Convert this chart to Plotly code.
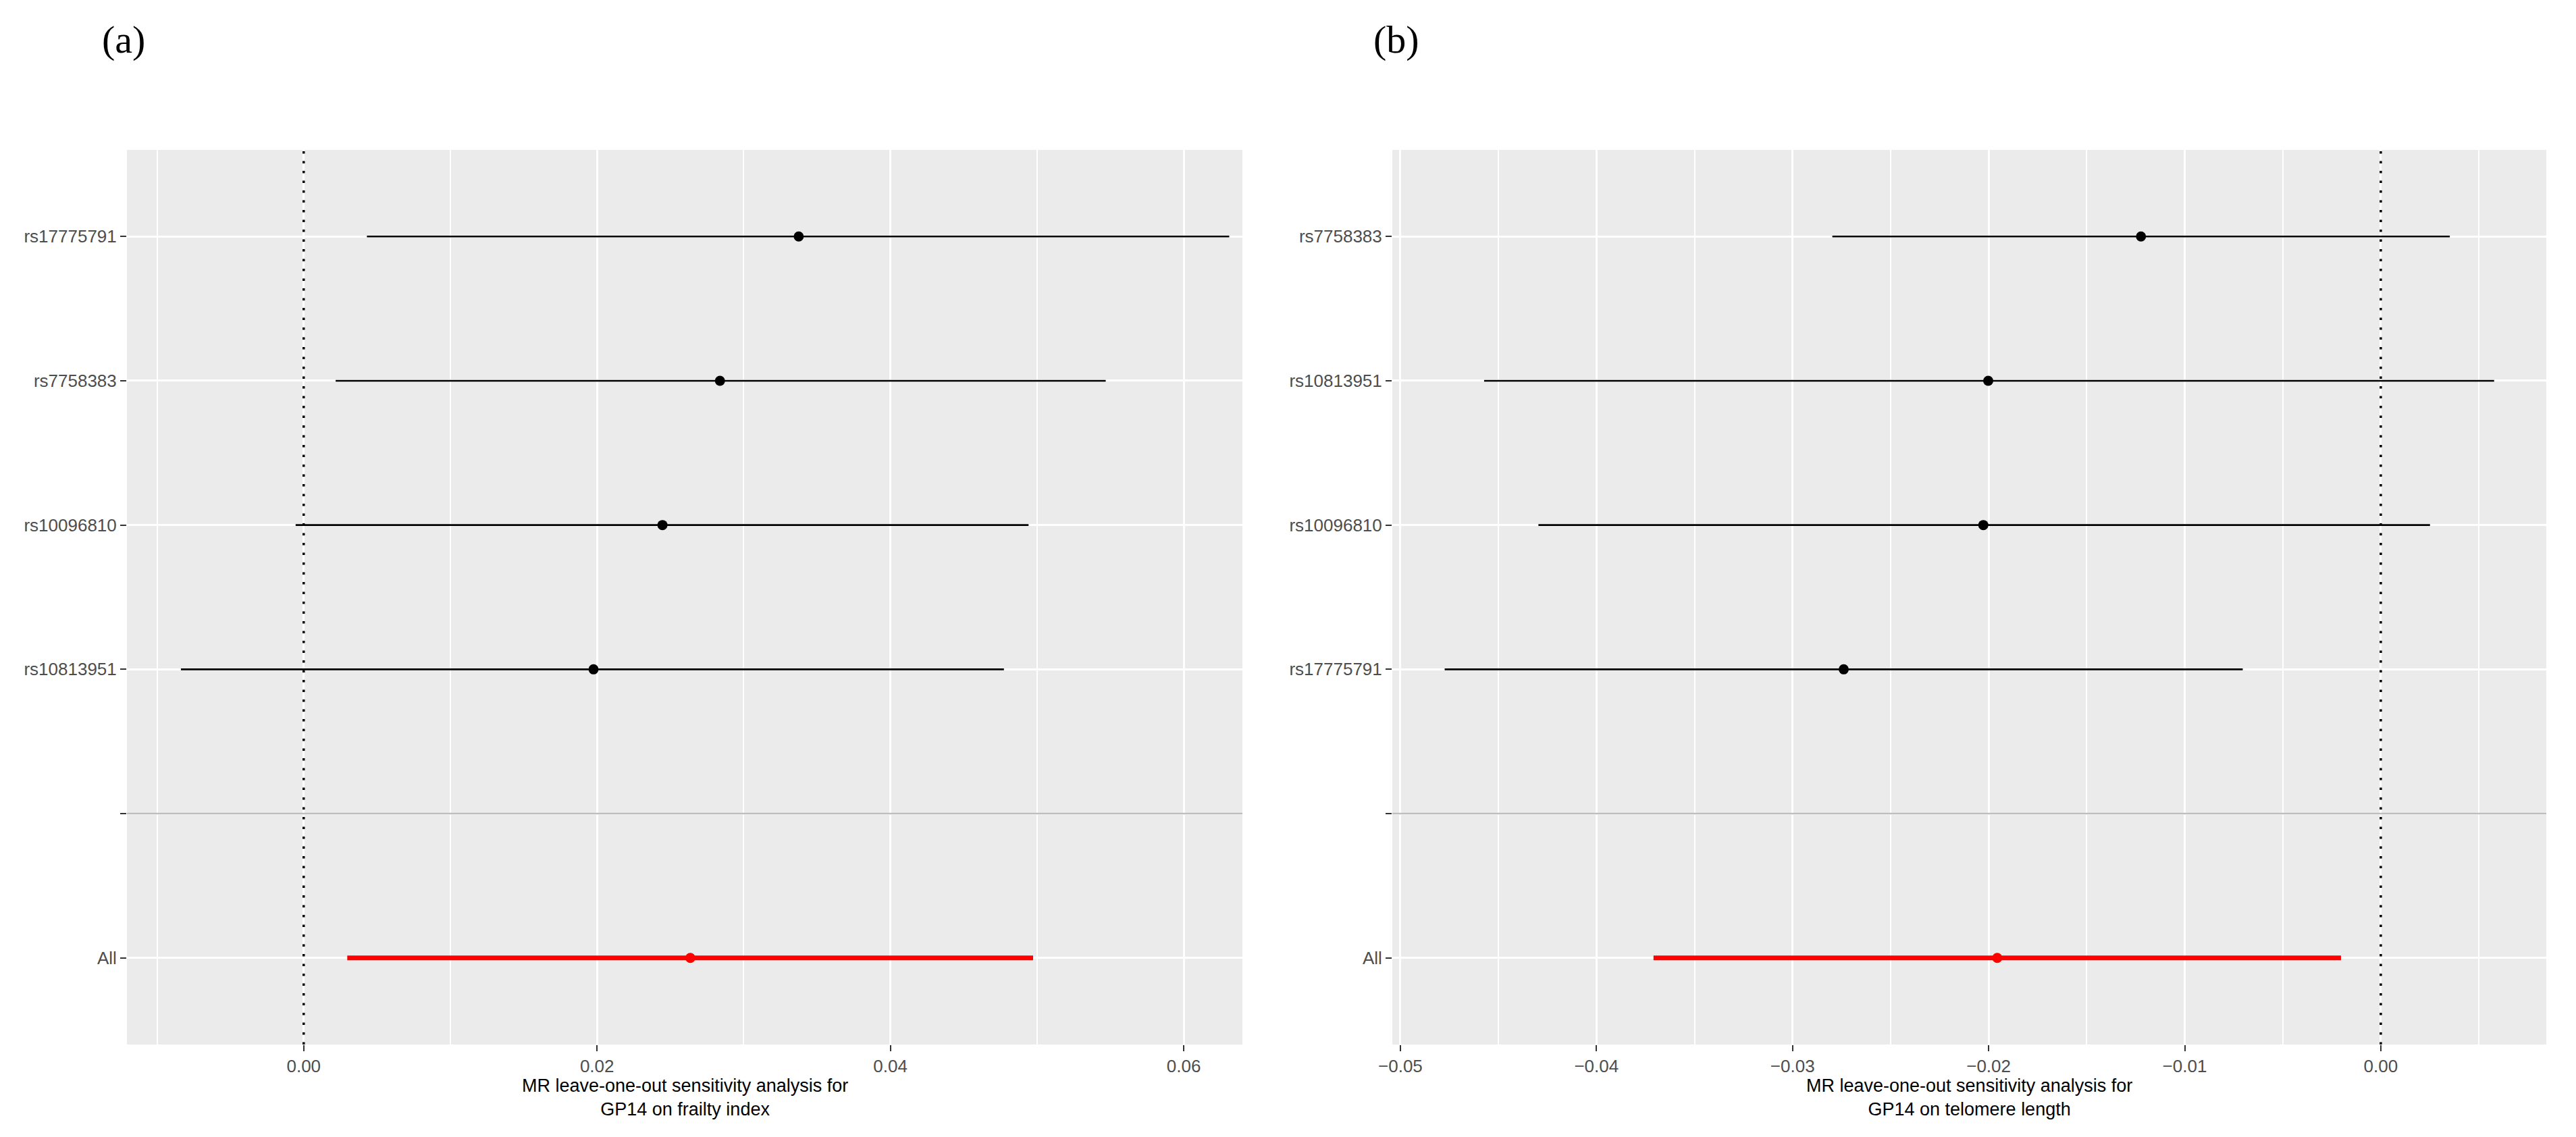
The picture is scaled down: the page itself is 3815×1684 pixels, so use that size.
import plotly.graph_objects as go

# ---------------- data ----------------
# Panel (a): GP14 on frailty index (rows listed top to bottom)
a_snps = ["rs17775791", "rs7758383", "rs10096810", "rs10813951"]
a_b = [0.03375, 0.02838, 0.02446, 0.01976]
a_lo = [0.00431, 0.00218, -0.00055, -0.00837]
a_hi = [0.06310, 0.05468, 0.04942, 0.04774]
a_all_b, a_all_lo, a_all_hi = 0.02636, 0.00297, 0.04973
a_ticks = [0.00, 0.02, 0.04, 0.06]
a_ticklabels = ["0.00", "0.02", "0.04", "0.06"]
a_minor = [-0.01, 0.01, 0.03, 0.05]
a_range = [-0.01205, 0.0640]
a_title = "MR leave-one-out sensitivity analysis for<br>GP14 on frailty index"

# Panel (b): GP14 on telomere length (rows listed top to bottom)
b_snps = ["rs7758383", "rs10813951", "rs10096810", "rs17775791"]
b_b = [-0.01223, -0.02002, -0.02027, -0.02739]
b_lo = [-0.02797, -0.04573, -0.04296, -0.04774]
b_hi = [0.00352, 0.00578, 0.00251, -0.00704]
b_all_b, b_all_lo, b_all_hi = -0.01956, -0.03709, -0.00203
b_ticks = [-0.05, -0.04, -0.03, -0.02, -0.01, 0.00]
b_ticklabels = ["\u22120.05", "\u22120.04", "\u22120.03", "\u22120.02", "\u22120.01", "0.00"]
b_minor = [-0.045, -0.035, -0.025, -0.015, -0.005, 0.005]
b_range = [-0.05041, 0.00844]
b_title = "MR leave-one-out sensitivity analysis for<br>GP14 on telomere length"

panel_labels = ["(a)", "(b)"]

# ---------------- figure ----------------
W, H = 3815, 1684          # browser window
OFF = 8                    # default page body margin
FW, FH = W - 2 * OFF, H - 2 * OFF
FONT = "Liberation Sans, Arial, sans-serif"


def px(xs):   # screen x -> paper
    return (xs - OFF) / FW


def py(ys):   # screen y -> paper
    return 1 - (ys - OFF) / FH


fig = go.Figure()

panels = [
    dict(snps=a_snps, b=a_b, lo=a_lo, hi=a_hi, all=(a_all_b, a_all_lo, a_all_hi),
         ticks=a_ticks, ticklabels=a_ticklabels, minor=a_minor, rng=a_range,
         title=a_title, xd=[px(188), px(1840)], xa="x", ya="y"),
    dict(snps=b_snps, b=b_b, lo=b_lo, hi=b_hi, all=(b_all_b, b_all_lo, b_all_hi),
         ticks=b_ticks, ticklabels=b_ticklabels, minor=b_minor, rng=b_range,
         title=b_title, xd=[px(2062), px(3771)], xa="x2", ya="y2"),
]

y_dom = [py(1547), py(222)]

for k, p in enumerate(panels):
    # discrete levels bottom -> top: All, blank separator, SNPs
    levels = ["All", ""] + p["snps"][::-1]
    pos = {lab: i + 1 for i, lab in enumerate(levels)}
    snp_y = [pos[s] for s in p["snps"]]

    # dotted reference line at zero (as a trace so it sits above the grid)
    fig.add_trace(go.Scatter(x=[0, 0], y=[0.4, len(levels) + 0.6], mode="lines",
                             line=dict(color="black", width=3.5, dash="3.5px,11px"),
                             xaxis=p["xa"], yaxis=p["ya"], showlegend=False, hoverinfo="skip"))

    ex, ey = [], []
    for lo, hi, yy in zip(p["lo"], p["hi"], snp_y):
        ex += [lo, hi, None]
        ey += [yy, yy, None]
    fig.add_trace(go.Scatter(x=ex, y=ey, mode="lines", line=dict(color="black", width=2.6),
                             xaxis=p["xa"], yaxis=p["ya"], showlegend=False, hoverinfo="skip"))
    fig.add_trace(go.Scatter(x=p["b"], y=snp_y, mode="markers",
                             marker=dict(color="black", size=15, line=dict(width=0)),
                             xaxis=p["xa"], yaxis=p["ya"], showlegend=False))
    ab, alo, ahi = p["all"]
    fig.add_trace(go.Scatter(x=[alo, ahi], y=[pos["All"], pos["All"]], mode="lines",
                             line=dict(color="red", width=7),
                             xaxis=p["xa"], yaxis=p["ya"], showlegend=False, hoverinfo="skip"))
    fig.add_trace(go.Scatter(x=[ab], y=[pos["All"]], mode="markers",
                             marker=dict(color="red", size=15, line=dict(width=0)),
                             xaxis=p["xa"], yaxis=p["ya"], showlegend=False))

    suffix = "" if k == 0 else "2"
    fig.update_layout(**{
        "xaxis" + suffix: dict(
            domain=p["xd"], anchor=p["ya"], range=p["rng"], automargin=False,
            tickmode="array", tickvals=p["ticks"], ticktext=p["ticklabels"],
            ticks="outside", ticklen=9, tickwidth=2, tickcolor="#333333",
            tickfont=dict(family=FONT, size=26, color="#4D4D4D"),
            showgrid=True, gridcolor="white", gridwidth=3,
            minor=dict(tickvals=p["minor"], showgrid=True, gridcolor="white", gridwidth=1.5, ticks=""),
            zeroline=False, showline=False,
        ),
        "yaxis" + suffix: dict(
            domain=y_dom, anchor=p["xa"], range=[0.4, len(levels) + 0.6], automargin=False,
            tickmode="array", tickvals=[pos[l] for l in levels], ticktext=levels,
            ticks="outside", ticklen=9, tickwidth=2, tickcolor="#333333",
            tickfont=dict(family=FONT, size=26, color="#4D4D4D"),
            showgrid=True, gridcolor="white", gridwidth=3,
            zeroline=False, showline=False,
        ),
    })

    # grey separator at the blank level
    fig.add_shape(type="line", xref=p["xa"] + " domain", yref=p["ya"], x0=0, x1=1,
                  y0=pos[""], y1=pos[""], line=dict(color="#BEBEBE", width=2.5))

    # x-axis title (two lines, centred under the panel)
    fig.add_annotation(text=p["title"], x=(p["xd"][0] + p["xd"][1]) / 2, y=py(1625),
                       xref="paper", yref="paper", showarrow=False,
                       xanchor="center", yanchor="middle", align="center",
                       font=dict(family=FONT, size=27, color="black"))

# panel labels
for lab, xc in zip(panel_labels, [183, 2068]):
    fig.add_annotation(text=lab, x=px(xc), y=py(58), xref="paper", yref="paper",
                       showarrow=False, xanchor="center", yanchor="middle",
                       font=dict(family="Liberation Serif, Times New Roman, serif", size=58, color="black"))

fig.update_layout(
    width=FW, height=FH,
    margin=dict(l=0, r=0, t=0, b=0),
    paper_bgcolor="white", plot_bgcolor="#EBEBEB",
    showlegend=False,
)

fig.write_html("out.html")
